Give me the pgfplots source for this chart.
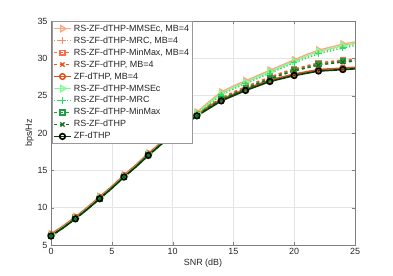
\documentclass[border=0pt]{standalone}
\usepackage{fontspec}
\setmainfont{Liberation Sans}
\usepackage{pgfplots}
\pgfplotsset{compat=1.18}
\definecolor{ca}{HTML}{FFA584}
\definecolor{cb}{HTML}{FF8C69}
\definecolor{cc}{HTML}{FF6A4D}
\definecolor{cd}{HTML}{F0501E}
\definecolor{ce}{HTML}{D9531A}
\definecolor{ga}{HTML}{80FF90}
\definecolor{gb}{HTML}{22E060}
\definecolor{gc}{HTML}{1EA040}
\definecolor{gd}{HTML}{0F7020}
\definecolor{ge}{HTML}{0B3D0B}
\definecolor{axc}{HTML}{7F7F7F}
\definecolor{txc}{HTML}{262626}
\begin{document}
\begin{tikzpicture}
\useasboundingbox (-51bp,-31bp) rectangle (342bp,245bp);
\begin{axis}[
  at={(0,0)}, anchor=south west,
  scale only axis, width=304bp, height=224bp,
  xmin=0, xmax=25, ymin=5, ymax=35,
  xtick={0,5,10,15,20,25}, ytick={5,10,15,20,25,30,35},
  grid=major, major grid style={color=black!10, line width=0.5pt},
  axis line style={color=axc, line width=0.6pt},
  tick style={color=axc}, tick align=inside, major tick length=3bp,
  xtick pos=both, ytick pos=both,
  tick label style={font=\fontsize{9}{10}\selectfont, color=txc},
  /pgf/number format/assume math mode=true,
  xlabel={SNR (dB)}, ylabel={bps/Hz},
  label style={font=\fontsize{9}{10}\selectfont, color=txc},
  xlabel style={yshift=3bp},
  ylabel style={yshift=-3bp},
  legend style={at={(0.003,0.998)}, anchor=north west, draw=black!40, fill=white,
    font=\fontsize{9}{11}\selectfont, inner sep=1bp, row sep=0bp,
    legend cell align=left, text=txc},
  legend image code/.code={\draw[mark repeat=2,mark phase=2,#1] plot coordinates {(0cm,0cm) (0.3cm,0cm) (0.6cm,0cm)};},
  mark repeat=2, mark phase=1,
]
% RS-ZF-dTHP-MMSEc, MB=4
\addplot[ca, line width=1.3pt, mark=triangle, mark options={rotate=-90, scale=1.8, solid}] coordinates {
(0,6.5)(1,7.6)(2,8.8)(3,10.1)(4,11.5)(5,12.9)(6,14.4)(7,15.8)(8,17.3)(9,18.7)(10,20.1)(11,21.5)(12,22.8)(13,24.2)(14,25.5)(15,26.3)(16,27.0)(17,27.7)(18,28.4)(19,29.1)(20,29.8)(21,30.5)(22,31.1)(23,31.5)(24,31.9)(25,32.2)};
\addlegendentry{RS-ZF-dTHP-MMSEc, MB=4}
% RS-ZF-dTHP-MRC, MB=4
\addplot[cb, line width=1.3pt, dotted, mark=+, mark options={scale=1.6, solid}] coordinates {
(0,6.4)(1,7.5)(2,8.7)(3,10.0)(4,11.4)(5,12.8)(6,14.3)(7,15.7)(8,17.2)(9,18.6)(10,20.0)(11,21.4)(12,22.7)(13,24.0)(14,25.3)(15,26.1)(16,26.8)(17,27.5)(18,28.2)(19,28.9)(20,29.6)(21,30.2)(22,30.8)(23,31.2)(24,31.6)(25,31.9)};
\addlegendentry{RS-ZF-dTHP-MRC, MB=4}
% RS-ZF-dTHP-MinMax, MB=4
\addplot[cc, line width=1.3pt, dashed, mark=square, mark options={scale=1.2, solid}] coordinates {
(0,6.4)(1,7.5)(2,8.7)(3,10.0)(4,11.4)(5,12.8)(6,14.3)(7,15.7)(8,17.2)(9,18.6)(10,20.0)(11,21.3)(12,22.5)(13,23.7)(14,24.7)(15,25.5)(16,26.2)(17,26.9)(18,27.5)(19,28.1)(20,28.6)(21,29.0)(22,29.4)(23,29.6)(24,29.8)(25,29.9)};
\addlegendentry{RS-ZF-dTHP-MinMax, MB=4}
% RS-ZF-dTHP, MB=4
\addplot[cd, line width=1.3pt, dashed, mark=x, mark options={scale=1.5, solid}] coordinates {
(0,6.4)(1,7.5)(2,8.7)(3,10.0)(4,11.4)(5,12.8)(6,14.3)(7,15.7)(8,17.2)(9,18.6)(10,20.0)(11,21.3)(12,22.5)(13,23.7)(14,24.6)(15,25.4)(16,26.1)(17,26.8)(18,27.4)(19,28.0)(20,28.5)(21,28.9)(22,29.3)(23,29.5)(24,29.7)(25,29.8)};
\addlegendentry{RS-ZF-dTHP, MB=4}
% ZF-dTHP, MB=4
\addplot[ce, line width=1.5pt, mark=o, mark options={scale=1.4, solid}] coordinates {
(0,6.4)(1,7.5)(2,8.7)(3,10.0)(4,11.4)(5,12.8)(6,14.3)(7,15.7)(8,17.2)(9,18.6)(10,20.0)(11,21.3)(12,22.5)(13,23.6)(14,24.5)(15,25.2)(16,25.9)(17,26.5)(18,27.1)(19,27.5)(20,27.9)(21,28.2)(22,28.5)(23,28.6)(24,28.7)(25,28.8)};
\addlegendentry{ZF-dTHP, MB=4}
% RS-ZF-dTHP-MMSEc
\addplot[ga, line width=1.3pt, mark=triangle, mark options={rotate=-90, scale=1.8, solid}] coordinates {
(0,6.3)(1,7.4)(2,8.6)(3,9.9)(4,11.3)(5,12.7)(6,14.2)(7,15.6)(8,17.1)(9,18.5)(10,19.9)(11,21.3)(12,22.6)(13,24.0)(14,25.3)(15,26.1)(16,26.8)(17,27.5)(18,28.2)(19,28.9)(20,29.6)(21,30.3)(22,30.9)(23,31.3)(24,31.7)(25,32.0)};
\addlegendentry{RS-ZF-dTHP-MMSEc}
% RS-ZF-dTHP-MRC
\addplot[gb, line width=1.3pt, dotted, mark=+, mark options={scale=1.6, solid}] coordinates {
(0,6.2)(1,7.3)(2,8.5)(3,9.8)(4,11.2)(5,12.6)(6,14.1)(7,15.5)(8,17.0)(9,18.4)(10,19.8)(11,21.2)(12,22.5)(13,23.8)(14,25.1)(15,25.9)(16,26.6)(17,27.3)(18,28.0)(19,28.7)(20,29.4)(21,30.0)(22,30.6)(23,31.0)(24,31.4)(25,31.7)};
\addlegendentry{RS-ZF-dTHP-MRC}
% RS-ZF-dTHP-MinMax
\addplot[gc, line width=1.3pt, dashed, mark=square, mark options={scale=1.2, solid}] coordinates {
(0,6.2)(1,7.3)(2,8.5)(3,9.8)(4,11.2)(5,12.6)(6,14.1)(7,15.5)(8,17.0)(9,18.4)(10,19.8)(11,21.1)(12,22.3)(13,23.5)(14,24.5)(15,25.3)(16,26.0)(17,26.7)(18,27.3)(19,27.9)(20,28.4)(21,28.8)(22,29.2)(23,29.4)(24,29.6)(25,29.7)};
\addlegendentry{RS-ZF-dTHP-MinMax}
% RS-ZF-dTHP
\addplot[gd, line width=1.3pt, dashed, mark=x, mark options={scale=1.5, solid}] coordinates {
(0,6.2)(1,7.3)(2,8.5)(3,9.8)(4,11.2)(5,12.6)(6,14.1)(7,15.5)(8,17.0)(9,18.4)(10,19.8)(11,21.1)(12,22.3)(13,23.5)(14,24.4)(15,25.2)(16,25.9)(17,26.6)(18,27.2)(19,27.8)(20,28.3)(21,28.7)(22,29.1)(23,29.3)(24,29.5)(25,29.6)};
\addlegendentry{RS-ZF-dTHP}
% ZF-dTHP
\addplot[ge, line width=1.7pt, mark=o, mark options={scale=1.4, solid, fill=gd, draw=black!85!ge}] coordinates {
(0,6.2)(1,7.3)(2,8.5)(3,9.8)(4,11.2)(5,12.6)(6,14.1)(7,15.5)(8,17.0)(9,18.4)(10,19.8)(11,21.1)(12,22.3)(13,23.3)(14,24.3)(15,25.0)(16,25.7)(17,26.3)(18,26.9)(19,27.3)(20,27.7)(21,28.0)(22,28.3)(23,28.4)(24,28.5)(25,28.6)};
\addlegendentry{ZF-dTHP}
\end{axis}
\end{tikzpicture}
\end{document}
